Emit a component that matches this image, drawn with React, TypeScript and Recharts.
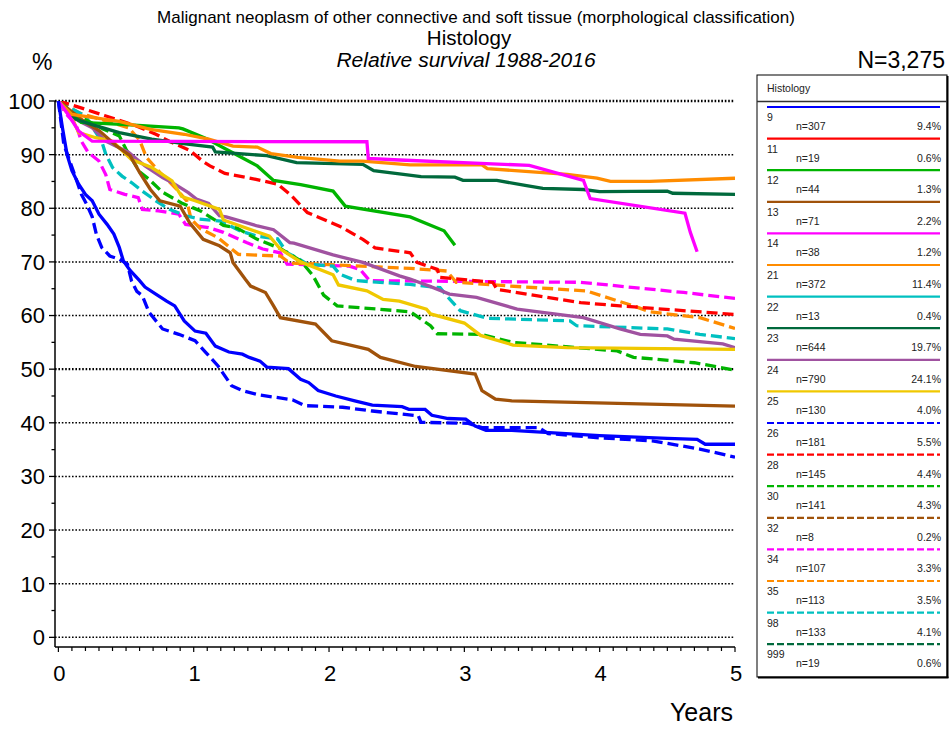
import React from 'react';
import { LineChart, Line, XAxis, YAxis, ReferenceLine } from 'recharts';

const FONT = '"Liberation Sans", Arial, Helvetica, sans-serif';

// ---------- legend ----------
const LEGEND_IDS = ['9', '11', '12', '13', '14', '21', '22', '23', '24', '25', '26', '28', '30', '32', '34', '35', '98', '999'];
const LEGEND_N = [307, 19, 44, 71, 38, 372, 13, 644, 790, 130, 181, 145, 141, 8, 107, 113, 133, 19];
const LEGEND_PCT = ['9.4%', '0.6%', '1.3%', '2.2%', '1.2%', '11.4%', '0.4%', '19.7%', '24.1%', '4.0%', '5.5%', '4.4%', '4.3%', '0.2%', '3.3%', '3.5%', '4.1%', '0.6%'];
const COLORS = ['#0000FF', '#FF0000', '#00B400', '#A0520A', '#FF00FF', '#FF8C00', '#00C0C0', '#00693C', '#A052A0', '#F0C800',
  '#0000FF', '#FF0000', '#00B400', '#A0520A', '#FF00FF', '#FF8C00', '#00C0C0', '#00693C'];
const DASHED = [false, false, false, false, false, false, false, false, false, false, true, true, true, true, true, true, true, true];

// ---------- axis ticks ----------
const Y_TICKS = [0, 5, 10, 15, 20, 25, 30, 35, 40, 45, 50, 55, 60, 65, 70, 75, 80, 85, 90, 95, 100];
const GRID_VALUES = [0, 10, 20, 30, 40, 50, 60, 70, 80, 90, 100];
const BOLD_GRID = [50, 100];
const X_TICKS = Array.from({ length: 51 }, (_, i) => i / 10);

// ---------- series (years, % relative survival) ----------
const h9 = [[0, 100], [0.03, 95], [0.064, 90], [0.1, 87], [0.15, 84.5], [0.2, 82.6], [0.25, 81.4], [0.3, 78.9], [0.36, 77], [0.41, 75.2], [0.45, 72.7], [0.48, 70.2], [0.53, 68.4], [0.6, 66.5], [0.64, 65.3], [0.72, 64], [0.8, 62.7], [0.86, 61.8], [0.93, 59], [1.01, 57.1], [1.09, 56.7], [1.16, 54.3], [1.26, 53.2], [1.36, 52.8], [1.41, 52.2], [1.49, 51.5], [1.54, 50.4], [1.7, 50.1], [1.79, 48.1], [1.85, 47.5], [1.92, 46], [2.05, 45], [2.19, 44.1], [2.32, 43.3], [2.54, 43.0], [2.59, 42.5], [2.71, 42.5], [2.76, 41.4], [2.88, 40.8], [3.01, 40.7], [3.08, 39.4], [3.16, 38.6], [3.35, 38.6], [4.0, 37.6], [4.5, 37.1], [4.72, 36.9], [4.78, 36.0], [5, 36.0]];
const h12 = [[0, 100], [0.1, 97.5], [0.17, 96], [0.5, 95.6], [0.89, 95], [0.92, 94.8], [1.1, 92.9], [1.24, 91], [1.47, 87.9], [1.59, 85.2], [1.79, 84.4], [2.03, 83.2], [2.12, 80.4], [2.6, 78.4], [2.85, 75.8], [2.93, 73.1]];
const h13 = [[0, 100], [0.1, 98], [0.2, 96], [0.3, 94.5], [0.43, 91.6], [0.53, 89.8], [0.6, 86.7], [0.68, 83.5], [0.75, 81.4], [0.9, 80.4], [0.97, 77.3], [1.07, 74.2], [1.19, 73], [1.27, 71.7], [1.29, 69.9], [1.38, 66.8], [1.42, 65.5], [1.53, 64.3], [1.59, 61.8], [1.64, 59.6], [1.9, 58.4], [2.02, 55.3], [2.29, 53.7], [2.38, 52.2], [2.64, 50.5], [3.08, 49.1], [3.13, 46], [3.23, 44.4], [3.35, 44.1], [5, 43.1]];
const h14 = [[0, 100], [0.08, 97.2], [0.15, 94.4], [0.25, 92.5], [2.28, 92.4], [2.29, 89.3], [2.52, 89.0], [3.48, 88.0], [3.88, 85.2], [3.93, 81.8], [4.63, 79.1], [4.67, 75.5], [4.72, 71.9]];
const h21 = [[0, 100], [0.1, 97.5], [0.26, 96.9], [0.45, 96.2], [0.68, 94.7], [0.93, 93.8], [1.11, 92.9], [1.29, 91.6], [1.47, 91.4], [1.57, 90.2], [1.77, 89.5], [2.08, 88.8], [2.25, 88.8], [2.6, 88.1], [3.13, 88.1], [3.17, 87.4], [3.76, 86.3], [3.98, 85.6], [4.08, 85.0], [4.37, 85.0], [5, 85.6]];
const h23 = [[0, 100], [0.13, 96.6], [0.25, 95.6], [0.45, 94.1], [0.69, 92.9], [0.94, 92], [1.14, 91.4], [1.16, 90.5], [1.54, 89.8], [1.76, 88.5], [2.25, 88.2], [2.33, 87.0], [2.52, 86.4], [2.68, 85.9], [2.93, 85.8], [2.99, 85.2], [3.24, 85.2], [3.46, 84.2], [3.58, 83.7], [3.88, 83.5], [4.0, 83.1], [4.5, 83.2], [4.54, 82.8], [5, 82.6]];
const h24 = [[0, 100], [0.15, 96.3], [0.25, 95], [0.35, 92.5], [0.45, 91.3], [0.52, 90.4], [0.64, 87.9], [0.77, 85.7], [0.86, 84.5], [0.96, 82.9], [1.02, 81.7], [1.11, 80.9], [1.19, 78.6], [1.24, 78.4], [1.47, 76.7], [1.59, 76.0], [1.71, 73.6], [1.74, 73.5], [2.03, 71.3], [2.25, 69.9], [2.52, 67.4], [2.6, 66.8], [2.77, 65.2], [2.89, 64.0], [3.09, 63.4], [3.39, 61.2], [3.88, 59.6], [4.15, 57.5], [4.3, 56.5], [4.5, 56.2], [4.55, 55.6], [4.91, 54.7], [5, 54.0]];
const h25 = [[0, 100], [0.03, 98.8], [0.1, 96.9], [0.15, 94.1], [0.27, 93.2], [0.4, 92.5], [0.54, 89.1], [0.69, 87.6], [0.84, 85.1], [0.91, 82.2], [1.01, 81.4], [1.19, 79.8], [1.22, 77.8], [1.56, 74.8], [1.64, 72.4], [1.79, 70.0], [2.03, 67.6], [2.07, 65.7], [2.28, 64.6], [2.4, 63.0], [2.52, 62.7], [2.72, 61.2], [2.75, 60.3], [3.0, 58.6], [3.12, 56.3], [3.36, 54.5], [3.76, 54.0], [5, 53.7]];
const h26 = [[0, 100], [0.04, 91.9], [0.1, 87.7], [0.17, 82.6], [0.21, 80.7], [0.25, 78.4], [0.28, 75.2], [0.32, 72.7], [0.38, 71.1], [0.45, 70.5], [0.51, 69.6], [0.54, 66.5], [0.58, 64.5], [0.62, 63.7], [0.67, 60.6], [0.77, 57.5], [0.89, 56.5], [1.01, 55.3], [1.09, 53.1], [1.18, 50.6], [1.28, 46.9], [1.36, 46], [1.48, 45.2], [1.73, 44.3], [1.82, 43.2], [2.1, 42.9], [2.32, 42.2], [2.66, 41.3], [2.68, 40.1], [3.03, 39.9], [3.13, 39.1], [3.55, 39.1], [3.62, 38.0], [4.0, 37.2], [4.4, 36.6], [4.74, 35.1], [5, 33.6]];
const h28 = [[0, 100], [0.12, 99.1], [0.34, 97.3], [0.56, 95.5], [0.72, 93.8], [0.82, 92.5], [0.97, 90.8], [1.07, 88.7], [1.12, 87.9], [1.23, 86.5], [1.46, 85.4], [1.62, 84.5], [1.72, 82.4], [1.84, 79.2], [1.97, 77.8], [2.09, 76.5], [2.25, 74.2], [2.34, 72.6], [2.6, 71.7], [2.65, 69.9], [2.8, 68.6], [2.82, 67.1], [3.21, 66.2], [3.24, 64.9], [3.46, 64.0], [3.86, 62.4], [4.15, 61.8], [5, 60.2]];
const h30 = [[0, 100], [0.08, 98.1], [0.2, 96.5], [0.33, 94.8], [0.45, 93.5], [0.5, 91], [0.6, 86.8], [0.67, 85.4], [0.77, 83], [0.91, 81], [1.05, 79.5], [1.22, 76.8], [1.32, 76.3], [1.47, 74.2], [1.64, 72.5], [1.79, 70.2], [1.88, 67.5], [1.96, 63.8], [2.06, 61.8], [2.6, 60.7], [2.75, 58.1], [2.8, 56.6], [3.12, 56.5], [3.36, 55.0], [4.13, 53.4], [4.25, 52.2], [4.4, 51.9], [4.7, 51.2], [5, 49.8]];
const h34 = [[0, 100], [0.05, 97.8], [0.13, 95.6], [0.17, 92.5], [0.22, 90.4], [0.3, 88.8], [0.35, 86.3], [0.38, 83.5], [0.49, 82.6], [0.59, 82.0], [0.62, 79.8], [0.74, 79.5], [0.89, 78.9], [0.94, 77.0], [1.11, 76.4], [1.22, 75.5], [1.39, 73.6], [1.51, 72.4], [1.64, 71.7], [1.69, 69.6], [2.15, 69.2], [2.23, 68.6], [2.3, 66.5], [3.86, 66.2], [4.62, 64.3], [5, 63.2]];
const h35 = [[0, 100], [0.15, 97.8], [0.35, 96.3], [0.52, 95], [0.6, 92.7], [0.65, 89.5], [0.75, 86.7], [0.88, 83.4], [0.95, 81.3], [0.98, 78], [1.05, 76.2], [1.18, 74.5], [1.33, 71.4], [1.64, 71.1], [1.71, 69.8], [2.08, 69.4], [2.6, 68.8], [2.87, 68.3], [2.94, 66.2], [3.34, 65.5], [3.9, 64.6], [4.25, 61.8], [4.37, 60.7], [4.74, 59.6], [5, 57.6]];
const h98 = [[0, 100], [0.08, 98.8], [0.2, 97.2], [0.27, 94.4], [0.32, 92.5], [0.35, 90.1], [0.4, 87.6], [0.47, 86], [0.54, 84.8], [0.62, 83.2], [0.72, 81.4], [0.82, 79.8], [0.94, 78.6], [1.04, 78], [1.2, 77.6], [1.34, 75.8], [1.47, 74.8], [1.62, 74.3], [1.69, 71.7], [1.76, 70.8], [1.84, 69.6], [2.03, 69.2], [2.08, 67.7], [2.2, 66.5], [2.6, 65.8], [2.82, 65.2], [2.89, 63.1], [2.97, 60.9], [3.17, 59.5], [3.78, 59.0], [3.83, 58.1], [4.5, 57.5], [4.74, 56.5], [5, 55.7]];

const PLOTTED: { id: string; pts: number[][] }[] = [
  { id: '34', pts: h34 }, { id: '35', pts: h35 }, { id: '98', pts: h98 }, { id: '28', pts: h28 },
  { id: '30', pts: h30 }, { id: '26', pts: h26 },
  { id: '24', pts: h24 }, { id: '25', pts: h25 }, { id: '13', pts: h13 }, { id: '12', pts: h12 },
  { id: '23', pts: h23 }, { id: '21', pts: h21 }, { id: '14', pts: h14 }, { id: '9', pts: h9 },
];

const YTick = (props: any) => {
  const { x, y, payload } = props;
  const v = payload.value;
  const major = v % 10 === 0;
  return (
    <g>
      <line x1={x - (major ? 6 : 3.5)} x2={x} y1={y} y2={y} stroke="#000" strokeWidth={1.3} />
      {major && (
        <text x={x - 10} y={y} dy="0.36em" textAnchor="end" fontSize={22} fontFamily={FONT} fill="#000">{v}</text>
      )}
    </g>
  );
};

const XTick = (props: any) => {
  const { x, y, payload } = props;
  const v = payload.value;
  const major = Math.abs(v - Math.round(v)) < 1e-6;
  return (
    <g>
      <line x1={x} x2={x} y1={y} y2={y + (major ? 5 : 4)} stroke="#000" strokeWidth={1.2} />
      {major && (
        <text x={x + 1} y={y + 33.5} textAnchor="middle" fontSize={22} fontFamily={FONT} fill="#000">{Math.round(v)}</text>
      )}
    </g>
  );
};

const LEG_X = 757;
const LEG_Y = 75;
const LEG_W = 190;
const LEG_H = 602;
const ROW0 = 107;
const ROW_H = 31.6;

export default function App() {
  return (
    <div style={{ position: 'absolute', left: 0, top: 0, width: 951, height: 729, background: '#fff' }}>
      <LineChart width={951} height={729} margin={{ top: 101, right: 216, bottom: 52, left: 0 }}>
        <XAxis
          dataKey="t"
          type="number"
          domain={[-0.025, 5]}
          ticks={X_TICKS}
          interval={0}
          tick={<XTick />}
          tickLine={false}
          tickSize={0}
          tickMargin={0}
          height={30}
          axisLine={{ stroke: '#000', strokeWidth: 1.5 }}
          allowDataOverflow
        />
        <YAxis
          dataKey="v"
          type="number"
          domain={[-1.8, 100]}
          ticks={Y_TICKS}
          interval={0}
          tick={<YTick />}
          tickLine={false}
          tickSize={0}
          tickMargin={0}
          width={55}
          axisLine={{ stroke: '#000', strokeWidth: 1.5 }}
          allowDataOverflow
        />
        {GRID_VALUES.map((g) => (
          <ReferenceLine
            key={'g' + g}
            y={g}
            stroke="#000"
            strokeWidth={BOLD_GRID.includes(g) ? 2.4 : 1.5}
            strokeDasharray="1.6 1.8"
          />
        ))}
        {PLOTTED.map((s) => {
          const idx = LEGEND_IDS.indexOf(s.id);
          return (
            <Line
              key={s.id}
              data={s.pts.map(([t, v]) => ({ t, v }))}
              dataKey="v"
              type="linear"
              stroke={COLORS[idx]}
              strokeWidth={3.3}
              strokeDasharray={DASHED[idx] ? '11 5' : undefined}
              dot={false}
              activeDot={false}
              isAnimationActive={false}
            />
          );
        })}
      </LineChart>
      <svg width={951} height={729} style={{ position: 'absolute', left: 0, top: 0, pointerEvents: 'none' }} fontFamily={FONT}>
        <text x={476} y={22.5} textAnchor="middle" fontSize={17}>Malignant neoplasm of other connective and soft tissue (morphological classification)</text>
        <text x={469} y={45} textAnchor="middle" fontSize={20.5}>Histology</text>
        <text x={466} y={67} textAnchor="middle" fontSize={21} fontStyle="italic">Relative survival 1988-2016</text>
        <text x={32} y={70} fontSize={23}>%</text>
        <text x={945} y={68} textAnchor="end" fontSize={23}>N=3,275</text>
        <text x={733} y={721} textAnchor="end" fontSize={25}>Years</text>

        <rect x={LEG_X} y={LEG_Y} width={LEG_W} height={LEG_H} fill="#fff" stroke="#000" strokeWidth={1} />
        <line x1={LEG_X + LEG_W + 0.5} x2={LEG_X + LEG_W + 0.5} y1={LEG_Y + 1} y2={LEG_Y + LEG_H + 1} stroke="#000" strokeWidth={2} />
        <line x1={LEG_X + 1} x2={LEG_X + LEG_W + 1.5} y1={LEG_Y + LEG_H + 0.5} y2={LEG_Y + LEG_H + 0.5} stroke="#000" strokeWidth={2} />
        <text x={LEG_X + 10} y={LEG_Y + 17} fontSize={10.5} fill="#222">Histology</text>
        <line x1={LEG_X} x2={LEG_X + LEG_W} y1={101.5} y2={101.5} stroke="#333" strokeWidth={1.3} />
        {LEGEND_IDS.map((id, i) => {
          const ly = ROW0 + i * ROW_H;
          return (
            <g key={'leg' + id}>
              <line x1={767} x2={940} y1={ly} y2={ly} stroke={COLORS[i]} strokeWidth={2.2} strokeDasharray={DASHED[i] ? '7 3' : undefined} />
              <text x={767} y={ly + 14} fontSize={10.5} fill="#222">{id}</text>
              <text x={796} y={ly + 23} fontSize={10.5} fill="#222">{'n=' + LEGEND_N[i]}</text>
              <text x={941} y={ly + 23} textAnchor="end" fontSize={10.5} fill="#222">{LEGEND_PCT[i]}</text>
            </g>
          );
        })}
      </svg>
    </div>
  );
}
